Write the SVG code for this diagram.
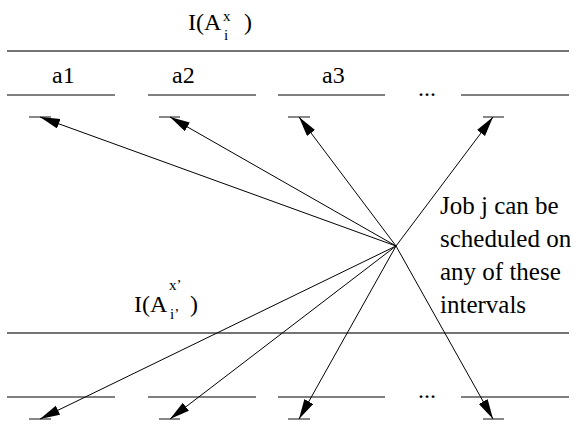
<svg xmlns="http://www.w3.org/2000/svg" width="577" height="424" viewBox="0 0 577 424" font-family="'Liberation Serif', 'DejaVu Serif', serif">
<style>
text{font-family:"Liberation Serif","DejaVu Serif","Times New Roman",serif;fill:#000}
.t{font-size:24px}
.n{font-size:25px}
.s{font-size:15px}
.long{stroke:#444;stroke-width:1.4;fill:none}
.seg{stroke:#000;stroke-width:1;fill:none}
.tick{stroke:#555;stroke-width:1.4;fill:none}
.arr{stroke:#000;stroke-width:1;fill:none;marker-end:url(#ah)}
</style>
<defs>
<marker id="ah" markerUnits="userSpaceOnUse" markerWidth="22" markerHeight="12" refX="20" refY="5" orient="auto">
<path d="M0,0 L20,5 L0,10 Z" fill="#000"/>
</marker>
</defs>
<rect width="577" height="424" fill="#fff"/>
<g id="top-label"><text class="t" x="188" y="30">I(A</text><text class="s" x="223" y="21">x</text><text class="s" x="224" y="40">i</text><text class="t" x="244" y="30">)</text></g>
<g id="top-line"><line class="long" x1="7" y1="51" x2="569" y2="51"/></g>
<g id="a1"><text class="t" x="52" y="83">a1</text><line class="seg" x1="7" y1="95" x2="115" y2="95"/><line class="tick" x1="29" y1="117" x2="51" y2="117"/></g>
<g id="a2"><text class="t" x="172" y="83">a2</text><line class="seg" x1="148" y1="95" x2="256" y2="95"/><line class="tick" x1="159" y1="117" x2="180" y2="117"/></g>
<g id="a3"><text class="t" x="322" y="83">a3</text><line class="seg" x1="278" y1="95" x2="385" y2="95"/><line class="tick" x1="288" y1="117" x2="310" y2="117"/></g>
<g id="top-dots"><text class="t" x="418" y="96">...</text></g>
<g id="a4"><line class="seg" x1="461" y1="95" x2="569" y2="95"/><line class="tick" x1="483" y1="117" x2="504" y2="117"/></g>
<g id="note"><text class="n" x="440" y="214">Job j can be</text><text class="n" x="440" y="247">scheduled on</text><text class="n" x="440" y="280">any of these</text><text class="n" x="440" y="313">intervals</text></g>
<g id="bottom-label"><text class="t" x="134" y="312">I(A</text><text class="s" x="169" y="290">x’</text><text class="s" x="170" y="319">i’</text><text class="t" x="190" y="312">)</text></g>
<g id="bottom-line"><line class="long" x1="7" y1="333" x2="569" y2="333"/></g>
<g id="b1"><line class="seg" x1="7" y1="397" x2="115" y2="397"/><line class="tick" x1="29" y1="419" x2="51" y2="419"/></g>
<g id="b2"><line class="seg" x1="148" y1="397" x2="256" y2="397"/><line class="tick" x1="159" y1="419" x2="180" y2="419"/></g>
<g id="b3"><line class="seg" x1="278" y1="397" x2="385" y2="397"/><line class="tick" x1="288" y1="419" x2="310" y2="419"/></g>
<g id="bottom-dots"><text class="t" x="418" y="398">...</text></g>
<g id="b4"><line class="seg" x1="461" y1="397" x2="569" y2="397"/><line class="tick" x1="483" y1="419" x2="504" y2="419"/></g>
<g id="connectors">
<line class="arr" x1="396" y1="246" x2="40" y2="117"/>
<line class="arr" x1="396" y1="246" x2="170" y2="117"/>
<line class="arr" x1="396" y1="246" x2="299" y2="117"/>
<line class="arr" x1="396" y1="246" x2="493" y2="117"/>
<line class="arr" x1="396" y1="246" x2="40" y2="419"/>
<line class="arr" x1="396" y1="246" x2="170" y2="419"/>
<line class="arr" x1="396" y1="246" x2="299" y2="419"/>
<line class="arr" x1="396" y1="246" x2="493" y2="419"/>
</g>
</svg>
